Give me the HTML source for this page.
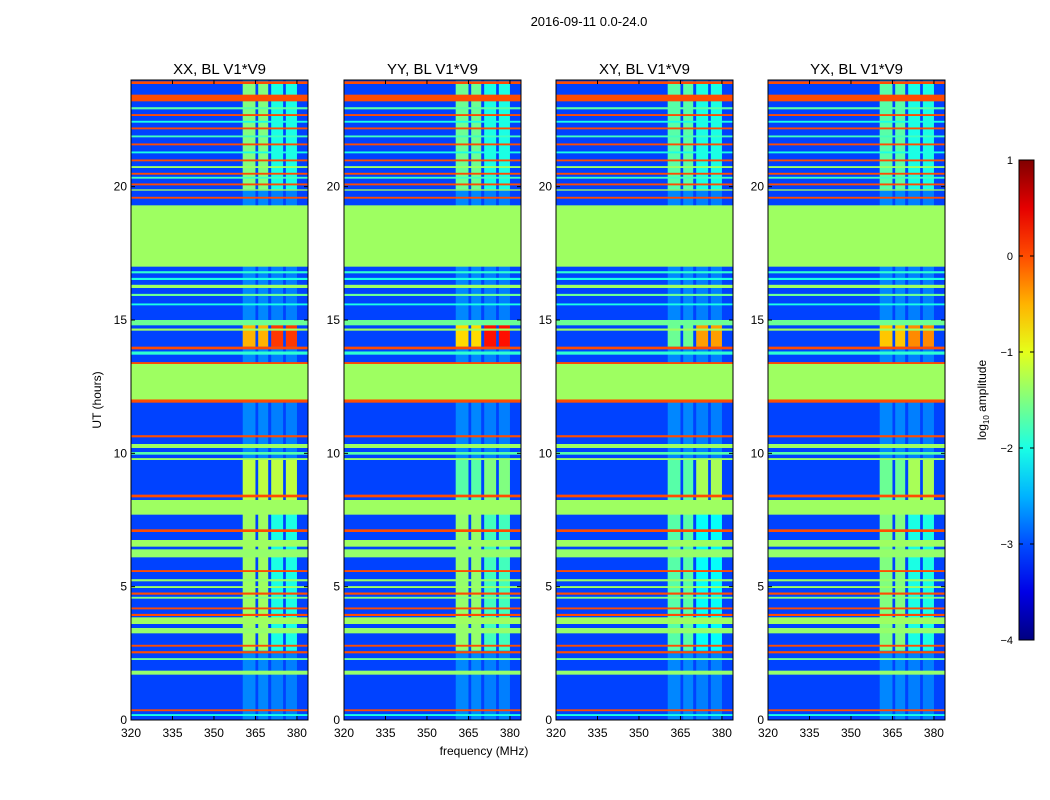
<!DOCTYPE html>
<html><head><meta charset="utf-8">
<style>
body{margin:0;background:#fff;}
svg{display:block;font-family:"Liberation Sans",sans-serif;}
</style></head>
<body>
<svg id="fig" width="1050" height="800" viewBox="0 0 1050 800">
<rect width="1050" height="800" fill="#fff"/>
<text x="589" y="26" font-size="13" text-anchor="middle">2016-09-11 0.0-24.0</text>
<text x="484" y="755" font-size="12" text-anchor="middle">frequency (MHz)</text>
<text transform="translate(101,400) rotate(-90)" font-size="12" text-anchor="middle">UT (hours)</text>
<g id="panels"></g>
<g id="cbar"></g>
<text transform="translate(986,400) rotate(-90)" font-size="12" text-anchor="middle">log<tspan font-size="8" dy="3">10</tspan><tspan dy="-3"> amplitude</tspan></text>
</svg>
<script>
const panelTitles=["XX, BL V1*V9","YY, BL V1*V9","XY, BL V1*V9","YX, BL V1*V9"];
const panelLeft=[131,344,556,768];
const xTicks=[320,335,350,365,380];
const yTicks=[0,5,10,15,20];
const cbTicks=[1,0,-1,-2,-3,-4];
const bgValue=-3.05;
// time bands (hours) spanning full bandwidth
const rowStart=[23.85,23.2,22.9,22.65,22.4,22.15,21.85,21.55,21.25,20.95,20.7,20.45,20.3,20.05,19.85,19.55,17.0,16.75,16.5,16.2,15.9,15.55,14.8,14.6,13.9,13.7,13.35,12.0,11.9,10.6,10.2,9.95,9.75,8.35,7.7,7.05,6.5,6.1,5.55,5.2,4.95,4.7,4.55,4.15,3.9,3.6,3.25,2.75,2.5,2.25,1.7,0.33,0.15];
const rowEnd  =[23.95,23.45,22.98,22.72,22.47,22.22,21.92,21.62,21.32,21.02,20.77,20.52,20.37,20.12,19.9,19.62,19.3,16.83,16.58,16.32,15.98,15.62,15.0,14.68,14.0,13.82,13.42,13.35,12.02,10.68,10.35,10.05,9.82,8.45,8.25,7.15,6.75,6.4,5.62,5.28,5.02,4.78,4.62,4.22,3.98,3.85,3.45,2.82,2.58,2.32,1.85,0.4,0.22];
const rowVal  =[0,0,-1.7,0,-2,0,-1.8,0,-2,0,-1.35,0,-1.8,0,-1.35,0,-1.35,-1.9,-2,-1.35,-1.6,-2,-1.6,-1.35,0,-1.9,0,-1.35,0,0,-1.35,-1.7,-1.35,0,-1.35,0,-1.35,-1.4,0,-1.4,-1.35,0,-1.5,0,0,-1.35,-1.4,0,0,-1.6,-1.4,0,-2];
// RFI frequency columns (MHz)
const colStart=[360.4,366,370.7,376];
const colEnd=[365,369.6,375,380];
const colVal=[-2.2,-2.2,-2.3,-2.3];
// RFI blocks: time ranges, value per panel per column
const blkStart=[14.0,8.0,2.6,19.9];
const blkEnd=[14.85,9.8,7.8,23.9];
const blkVal=[
 [[-0.5,-0.5,0.1,0.1],[-1.2,-1.2,-1.2,-1.2],[-1.35,-1.35,-2.0,-2.0],[-1.5,-1.5,-2.0,-2.0]],
 [[-0.7,-0.7,0.3,0.3],[-1.7,-1.7,-1.5,-1.5],[-1.4,-1.4,-1.8,-1.8],[-1.6,-1.6,-2.0,-2.0]],
 [[-1.6,-1.6,-0.4,-0.4],[-1.7,-1.7,-1.3,-1.3],[-1.7,-1.7,-2.1,-2.1],[-1.7,-1.7,-2.0,-2.0]],
 [[-0.6,-0.6,-0.3,-0.3],[-1.6,-1.6,-1.3,-1.3],[-1.5,-1.5,-2.0,-2.0],[-1.7,-1.7,-2.0,-2.0]]
];
const NS="http://www.w3.org/2000/svg";
const top0=80,bot0=720,pw=177,fMin=320,fMax=384,hMax=24;
function jet(v){const t=Math.max(0,Math.min(1,(v+4)/5));
 const c=x=>Math.round(255*Math.max(0,Math.min(1,1.5-Math.abs(x))));
 return `rgb(${c(4*t-3)},${c(4*t-2)},${c(4*t-1)})`;}
function yS(h){return bot0-(h/hMax)*(bot0-top0);}
function mk(tag,attrs,parent){const e=document.createElementNS(NS,tag);for(const k in attrs)e.setAttribute(k,attrs[k]);parent.appendChild(e);return e;}
const panels=document.getElementById('panels');
panelTitles.forEach((title,p)=>{
 const L=panelLeft[p];const xS=f=>L+(f-fMin)/(fMax-fMin)*pw;
 const g=mk('g',{},panels);
 
 
 const bg=mk('rect',{x:L,y:top0,width:pw,height:bot0-top0,fill:jet(bgValue)},g);
 
 
 colStart.forEach((cs,i)=>{
  const r=mk('rect',{x:xS(cs),y:top0,width:xS(colEnd[i])-xS(cs),height:bot0-top0,fill:jet(colVal[i]),opacity:0.4},g);
  
  
 });
 blkStart.forEach((bs,b)=>{colStart.forEach((cs,i)=>{
  const r=mk('rect',{x:xS(cs),y:yS(blkEnd[b]),width:xS(colEnd[i])-xS(cs),height:yS(bs)-yS(blkEnd[b]),fill:jet(blkVal[p][b][i])},g);
  
  
 });});
 rowStart.forEach((rs,i)=>{
  const r=mk('rect',{x:L,y:yS(rowEnd[i]),width:pw,height:Math.max(1,yS(rs)-yS(rowEnd[i])),fill:jet(rowVal[i])},g);
  
  
 });
 const fr=mk('rect',{x:L,y:top0,width:pw,height:bot0-top0,fill:'none',stroke:'#000','stroke-width':1},g);
 
 
 const t=mk('text',{x:L+pw/2,y:74,'font-size':15,'text-anchor':'middle'},g);t.textContent=title;
 
 
 xTicks.forEach(v=>{const x=xS(v);
  mk('line',{x1:x,x2:x,y1:bot0,y2:bot0-4,stroke:'#000'},g);
  mk('line',{x1:x,x2:x,y1:top0,y2:top0+4,stroke:'#000'},g);
  const tx=mk('text',{x:x,y:737,'font-size':12,'text-anchor':'middle'},g);tx.textContent=v;
  
  
 });
 yTicks.forEach(v=>{const y=yS(v);
  mk('line',{x1:L,x2:L+4,y1:y,y2:y,stroke:'#000'},g);
  mk('line',{x1:L+pw,x2:L+pw-4,y1:y,y2:y,stroke:'#000'},g);
  const ty=mk('text',{x:L-4,y:y+4,'font-size':12,'text-anchor':'end'},g);ty.textContent=v;
  
  
 });
});
// colorbar
const cb=document.getElementById('cbar');
const cbX=1019,cbW=15,cbT=160,cbB=640;
const defs=mk('defs',{},cb);
const gr=mk('linearGradient',{id:'jetg',x1:0,y1:1,x2:0,y2:0},defs);
for(let i=0;i<=10;i++){mk('stop',{offset:i/10,'stop-color':jet(-4+i/2)},gr);}
const cbr=mk('rect',{x:cbX,y:cbT,width:cbW,height:cbB-cbT,fill:'url(#jetg)',stroke:'#000'},cb);


cbTicks.forEach(v=>{const y=cbB-(v+4)/5*(cbB-cbT);
 mk('line',{x1:cbX,x2:cbX+4,y1:y,y2:y,stroke:'#000'},cb);
 mk('line',{x1:cbX+cbW,x2:cbX+cbW-4,y1:y,y2:y,stroke:'#000'},cb);
 const t=mk('text',{x:1013,y:y+4,'font-size':11,'text-anchor':'end'},cb);t.textContent=(v<0?'\u2212'+(-v):v);
 
 
});
</script>
</body></html>
